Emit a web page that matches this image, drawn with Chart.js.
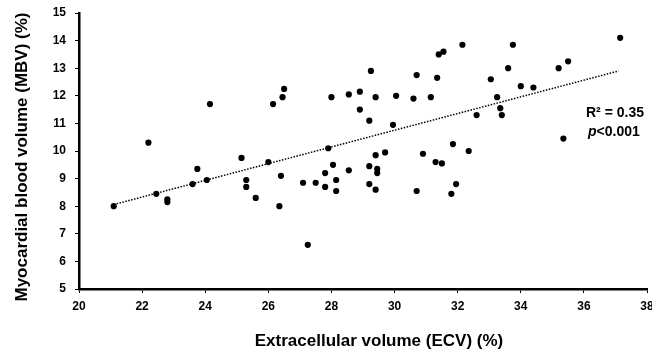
<!DOCTYPE html>
<html>
<head>
<meta charset="utf-8">
<script src="https://cdn.jsdelivr.net/npm/chart.js@4"></script>
<style>
  html, body { margin: 0; padding: 0; background: #fff; }
  #wrap { width: 652px; height: 354px; position: relative; }
</style>
</head>
<body>
<div id="wrap"><canvas id="myChart"></canvas></div>
<script>
// ECV (%) of each patient
const ecvValues = [
  21.1, 22.2, 22.45, 22.8, 22.8, 23.6, 23.75, 24.05, 24.15, 25.15,
  25.3, 25.3, 25.6, 26.0, 26.15, 26.35, 26.4, 26.45, 26.5, 27.1,
  27.25, 27.5, 27.8, 27.8, 27.9, 28.0, 28.05, 28.15, 28.15, 28.55,
  28.55, 28.9, 28.9, 29.2, 29.2, 29.2, 29.25, 29.4, 29.4, 29.45,
  29.45, 29.4, 29.7, 29.95, 30.05, 30.6, 30.7, 30.7, 30.9, 31.15,
  31.3, 31.35, 31.4, 31.5, 31.55, 31.8, 31.85, 31.95, 32.15, 32.35,
  32.6, 33.05, 33.25, 33.35, 33.4, 33.6, 33.75, 34.0, 34.4, 35.2,
  35.35, 35.5, 37.15
];

// MBV (%) of each patient
const mbvValues = [
  8.0, 10.3, 8.45, 8.25, 8.15, 8.8, 9.35, 8.95, 11.7, 9.75,
  8.95, 8.7, 8.3, 9.6, 11.7, 8.0, 9.1, 11.95, 12.25, 8.85,
  6.6, 8.85, 9.2, 8.7, 10.1, 11.95, 9.5, 8.95, 8.55, 9.3,
  12.05, 12.15, 11.5, 11.1, 9.45, 8.8, 12.9, 11.95, 9.85, 9.35,
  9.2, 8.6, 9.95, 10.95, 12.0, 11.9, 12.75, 8.55, 9.9, 11.95,
  9.6, 12.65, 13.5, 9.55, 13.6, 8.45, 10.25, 8.8, 13.85, 10.0,
  11.3, 12.6, 11.95, 11.55, 11.3, 13.0, 13.85, 12.35, 12.3, 13.0,
  10.45, 13.25, 14.1
];

// linear trend line end points
const trendX = [21.1, 37.1];
const trendY = [8.06, 12.9];

const xTicks = [20, 22, 24, 26, 28, 30, 32, 34, 36, 38];
const yTicks = [5, 6, 7, 8, 9, 10, 11, 12, 13, 14, 15];

const xTitle = 'Extracellular volume (ECV) (%)';
const yTitle = 'Myocardial blood volume (MBV) (%)';
const r2Label = 'R\u00b2 = 0.35';
const pLabel = '<0.001';

const FONT = '"Liberation Sans", Arial, sans-serif';

// titles and R2 text drawn on top of the chart
const textPlugin = {
  id: 'textPlugin',
  afterDraw: (chart) => {
    const ctx = chart.ctx;
    ctx.save();
    ctx.fillStyle = '#000';
    ctx.textBaseline = 'middle';

    // x axis title
    ctx.font = 'bold 17px ' + FONT;
    ctx.textAlign = 'center';
    ctx.fillText(xTitle, 379, 341);

    // y axis title
    ctx.save();
    ctx.translate(22, 157);
    ctx.rotate(-Math.PI / 2);
    ctx.fillText(yTitle, 0, 0);
    ctx.restore();

    // R2 + p value
    ctx.font = 'bold 14px ' + FONT;
    ctx.textAlign = 'left';
    ctx.fillText(r2Label, 586, 113);
    ctx.font = 'italic bold 14px ' + FONT;
    ctx.fillText('p', 588, 132);
    const w = ctx.measureText('p').width;
    ctx.font = 'bold 14px ' + FONT;
    ctx.fillText(pLabel, 588 + w, 132);
    ctx.restore();
  },
};

const points = ecvValues.map((v, i) => ({ x: v, y: mbvValues[i] }));
const trend = trendX.map((v, i) => ({ x: v, y: trendY[i] }));

const ctx = document.getElementById('myChart').getContext('2d');
const chart = new Chart(ctx, {
  type: 'scatter',
  data: {
    datasets: [
      {
        data: points,
        backgroundColor: '#000',
        borderWidth: 0,
        pointRadius: 3.1,
      },
      {
        data: trend,
        showLine: true,
        borderColor: '#000',
        borderWidth: 1.5,
        borderDash: [1.5, 1.5],
        pointRadius: 0,
      },
    ],
  },
  options: {
    responsive: true,
    maintainAspectRatio: false,
    animation: false,
    layout: { padding: { left: 0, right: 5, top: 13, bottom: 0 } },
    plugins: {
      legend: { display: false },
      tooltip: { enabled: false },
    },
    scales: {
      x: {
        type: 'linear',
        min: 20,
        max: 38,
        afterBuildTicks: (s) => { s.ticks = xTicks.map((v) => ({ value: v })); },
        afterFit: (s) => { s.height = 65; s.paddingLeft = 0; s.paddingRight = 0; },
        grid: { drawOnChartArea: false, drawTicks: true, tickLength: 4, tickColor: '#000', tickWidth: 1 },
        border: { display: true, color: '#000', width: 2.5 },
        ticks: { color: '#000', padding: 6, maxRotation: 0, font: { family: FONT, size: 12, weight: 'bold' } },
      },
      y: {
        type: 'linear',
        min: 5,
        max: 15,
        afterBuildTicks: (s) => { s.ticks = yTicks.map((v) => ({ value: v })); },
        afterFit: (s) => { s.width = 79; s.paddingTop = 0; s.paddingBottom = 0; },
        grid: { drawOnChartArea: false, drawTicks: true, tickLength: 4, tickColor: '#000', tickWidth: 1 },
        border: { display: true, color: '#000', width: 2.5 },
        ticks: { color: '#000', padding: 9, font: { family: FONT, size: 12, weight: 'bold' } },
      },
    },
  },
  plugins: [textPlugin],
});
</script>
</body>
</html>
